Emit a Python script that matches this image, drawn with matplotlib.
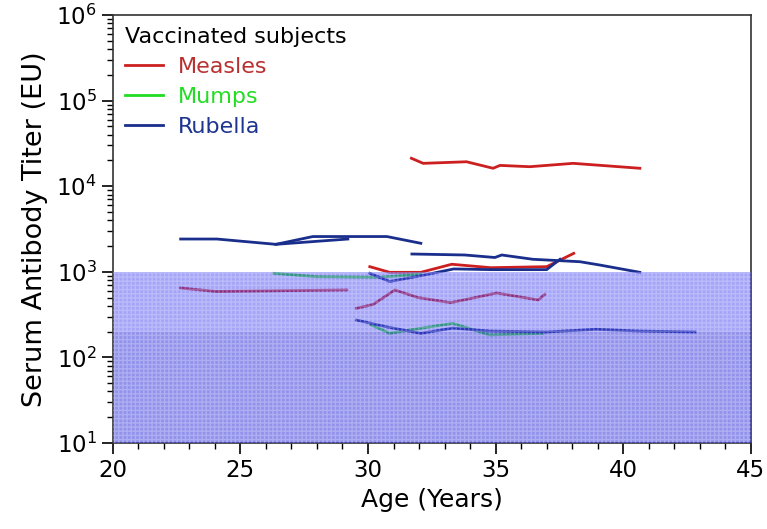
import matplotlib
matplotlib.use("Agg")
import matplotlib.pyplot as plt
import matplotlib.ticker as mticker
from matplotlib.lines import Line2D

# ---- data (age in years, titer in EU) ----
measles_a_x = [31.70, 32.16, 33.86, 34.90, 35.17, 36.34, 38.04, 40.65]
measles_a_y = [21200, 18500, 19300, 16200, 17500, 16900, 18500, 16200]

measles_b_x = [22.66, 24.04, 29.17]
measles_b_y = [647, 589, 613]

measles_c_x = [30.07, 30.85, 32.07, 33.28, 34.81, 37.00, 38.06]
measles_c_y = [1148, 986, 986, 1225, 1117, 1148, 1643]

measles_d_x = [29.55, 30.20, 31.05, 31.95, 33.24, 35.04, 36.67, 36.92]
measles_d_y = [375, 415, 613, 501, 436, 565, 469, 543]

mumps_a_x = [26.32, 27.98, 30.46, 32.03]
mumps_a_y = [959, 877, 863, 935]

mumps_b_x = [30.11, 30.85, 31.64, 33.32, 34.77, 36.85]
mumps_b_y = [241, 191, 209, 250, 183, 191]

rubella_a_x = [22.66, 24.08, 26.39, 29.21]
rubella_a_y = [2415, 2415, 2094, 2415]

rubella_b_x = [26.39, 27.84, 30.74, 32.07]
rubella_b_y = [2094, 2582, 2582, 2153]

rubella_c_x = [30.07, 30.85, 32.07, 33.36, 34.81, 37.00, 37.52]
rubella_c_y = [959, 770, 900, 1080, 1060, 1060, 1400]

rubella_d_x = [31.72, 33.79, 34.97, 35.24, 36.46, 38.30, 39.08, 40.65]
rubella_d_y = [1614, 1572, 1469, 1572, 1400, 1312, 1200, 986]

rubella_e_x = [29.55, 30.74, 32.07, 33.32, 34.77, 37.00, 38.93, 40.65, 42.81]
rubella_e_y = [273, 227, 191, 220, 203, 198, 213, 203, 198]

shade_upper = [200, 1000]
shade_lower = [10, 200]

C_MEASLES = "#cc2020"
C_MUMPS = "#22dd22"
C_RUBELLA = "#1a2e8c"

fig = plt.figure(figsize=(7.67, 5.29), dpi=100)
ax = fig.add_axes([0.147, 0.1626, 0.832, 0.809])

lw = 2.0
for xs, ys in [(measles_a_x, measles_a_y), (measles_b_x, measles_b_y),
               (measles_c_x, measles_c_y), (measles_d_x, measles_d_y)]:
    ax.plot(xs, ys, color=C_MEASLES, lw=lw, zorder=2)
for xs, ys in [(mumps_a_x, mumps_a_y), (mumps_b_x, mumps_b_y)]:
    ax.plot(xs, ys, color=C_MUMPS, lw=lw, zorder=2)
for xs, ys in [(rubella_a_x, rubella_a_y), (rubella_b_x, rubella_b_y),
               (rubella_c_x, rubella_c_y), (rubella_d_x, rubella_d_y),
               (rubella_e_x, rubella_e_y)]:
    ax.plot(xs, ys, color=C_RUBELLA, lw=lw, zorder=2)

# shaded protective-threshold region drawn over the lines
ax.axhspan(shade_upper[0], shade_upper[1], facecolor=(0.26, 0.26, 0.95), alpha=0.48,
           lw=0, zorder=3)
ax.axhspan(shade_lower[0], shade_lower[1], facecolor=(0.24, 0.24, 0.88), alpha=0.56,
           lw=0, zorder=3)
ax.axhspan(shade_lower[0], shade_upper[1], facecolor="none", edgecolor=(1, 1, 1, 0.25),
           hatch="++++", lw=0, zorder=3.5)

ax.set_yscale("log")
ax.set_xlim(20, 45)
ax.set_ylim(10, 1e6)

ax.xaxis.set_major_locator(mticker.MultipleLocator(5))
ax.xaxis.set_minor_locator(mticker.MultipleLocator(1))
ax.yaxis.set_major_locator(mticker.LogLocator(base=10, numticks=10))
ax.yaxis.set_minor_locator(mticker.LogLocator(base=10, subs=range(2, 10), numticks=20))
ax.yaxis.set_minor_formatter(mticker.NullFormatter())

ax.tick_params(which="major", direction="out", length=8, width=1.2, labelsize=16.5,
               top=False, right=False, colors="black")
ax.tick_params(which="minor", direction="out", length=4, width=1.0, top=False, right=False)
for s in ax.spines.values():
    s.set_linewidth(1.2)
    s.set_color("#333333")

ax.set_xlabel("Age (Years)", fontsize=18, labelpad=4)
ax.set_ylabel("Serum Antibody Titer (EU)", fontsize=19.5, labelpad=6)

handles = [Line2D([], [], color=C_MEASLES, lw=2),
           Line2D([], [], color=C_MUMPS, lw=2),
           Line2D([], [], color=C_RUBELLA, lw=2)]
leg = ax.legend(handles, ["Measles", "Mumps", "Rubella"], loc="upper left",
                title="Vaccinated subjects", alignment="left", frameon=False,
                fontsize=16, title_fontsize=16, handlelength=1.7,
                borderaxespad=0.15, labelspacing=0.45, handletextpad=0.7,
                borderpad=0.4)
leg.get_texts()[0].set_color("#b83030")
leg.get_texts()[1].set_color("#22dd22")
leg.get_texts()[2].set_color("#1e3590")
leg.set_zorder(5)

fig.savefig("out.png", dpi=100)
